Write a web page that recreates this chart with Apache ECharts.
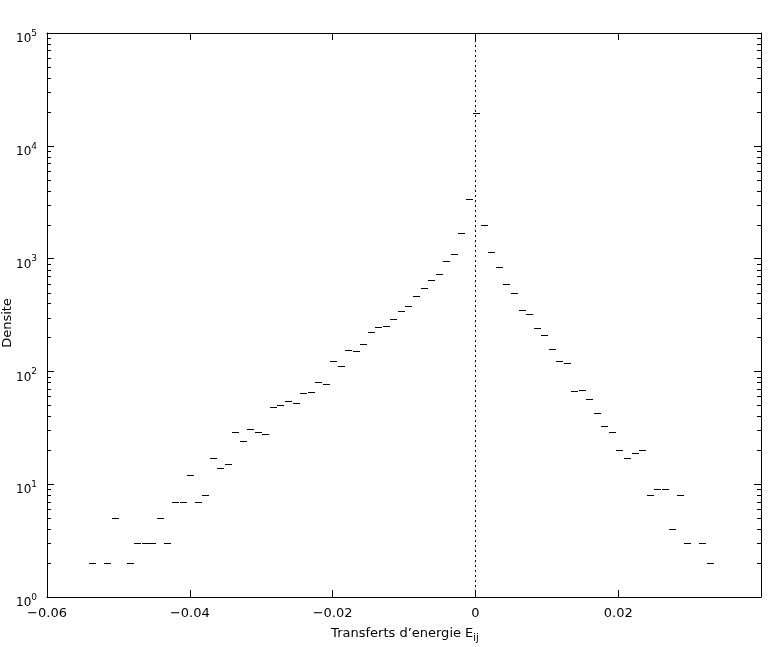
<!DOCTYPE html>
<html>
<head>
<meta charset="utf-8">
<script src="https://cdn.jsdelivr.net/npm/echarts/dist/echarts.min.js"></script>
<style>
html,body{margin:0;padding:0;background:#fff;}
#chart{width:768px;height:647px;}
</style>
</head>
<body>
<div id="chart"></div>
<script>
// Bin centres (energy transfer E_ij) and density values
var binCenters = [
  -0.05361, -0.05150, -0.05044, -0.04833, -0.04728, -0.04622, -0.04517, -0.04411, -0.04306, -0.04200,
  -0.04095, -0.03989, -0.03884, -0.03778, -0.03673, -0.03567, -0.03462, -0.03356, -0.03251, -0.03145,
  -0.03040, -0.02934, -0.02829, -0.02723, -0.02618, -0.02512, -0.02407, -0.02301, -0.02196, -0.02090,
  -0.01985, -0.01879, -0.01774, -0.01668, -0.01563, -0.01457, -0.01352, -0.01246, -0.01141, -0.01035,
  -0.00930, -0.00824, -0.00719, -0.00613, -0.00508, -0.00402, -0.00297, -0.00191, -0.00086,
  0.00020,
  0.00126, 0.00231, 0.00337, 0.00442, 0.00548, 0.00653, 0.00759, 0.00864, 0.00970, 0.01075,
  0.01181, 0.01286, 0.01392, 0.01497, 0.01603, 0.01708, 0.01814, 0.01919, 0.02025, 0.02130,
  0.02236, 0.02341, 0.02447, 0.02552, 0.02658, 0.02763, 0.02869, 0.02974, 0.03185, 0.03291
];
var densite = [
  2, 2, 5, 2, 3, 3, 3, 5, 3, 7,
  7, 12, 7, 8, 17, 14, 15, 29, 24, 31,
  29, 28, 48, 50, 55, 53, 64, 66, 80, 78,
  123, 111, 154, 151, 174, 222, 247, 253, 290, 341,
  378, 463, 545, 642, 726, 946, 1099, 1676, 3356,
  19500,
  1986, 1142, 841, 596, 495, 350, 323, 241, 210, 158,
  124, 119, 67, 68, 57, 43, 33, 29, 20, 17,
  19, 20, 8, 9, 9, 4, 8, 3, 3, 2
];
// Axis ticks
var xTicks = [-0.06, -0.04, -0.02, 0, 0.02, 0.04];
var xTickLabels = ['\u22120.06', '\u22120.04', '\u22120.02', '0', '0.02', ''];
var yMinorTicks = [];
[1, 10, 100, 1000, 10000].forEach(function (d) {
  [2, 3, 4, 5, 6, 7, 8, 9].forEach(function (k) { yMinorTicks.push(k * d); });
});

var points = binCenters.map(function (x, i) { return [x, densite[i]]; });
var minorData = yMinorTicks.map(function (v) { return [-0.06, v]; });

var FONT = 'DejaVu Sans';

function xLabel(v) {
  for (var i = 0; i < xTicks.length; i++) {
    if (Math.abs(v - xTicks[i]) < 1e-9) return xTickLabels[i];
  }
  return '';
}
function yLabel(v) {
  var e = Math.round(Math.log10(v));
  return '{b|10}{e|' + e + '}';
}

var chart = echarts.init(document.getElementById('chart'), null, {renderer: 'canvas'});
var option = {
  animation: false,
  backgroundColor: '#fff',
  grid: {left: 47, right: 7, top: 33, bottom: 50, containLabel: false, outerBoundsMode: 'none'},
  xAxis: [{
    type: 'value', min: -0.06, max: 0.04, interval: 0.02, position: 'bottom',
    axisLine: {show: true, onZero: false, lineStyle: {color: '#000', width: 1}},
    axisTick: {show: true, inside: true, length: 7, lineStyle: {color: '#000'}},
    axisLabel: {show: true, margin: 10, color: '#000', fontFamily: FONT, fontSize: 13, formatter: xLabel},
    splitLine: {show: false},
    name: 'Transferts d\u2019energie E{s|ij}',
    nameLocation: 'middle', nameGap: 28, nameMoveOverlap: false,
    nameTextStyle: {color: '#000', fontFamily: FONT, fontSize: 13, lineHeight: 18, padding: [0, 0, 0, 2],
      rich: {s: {fontFamily: FONT, fontSize: 10, color: '#000', verticalAlign: 'bottom', lineHeight: 10, padding: [12, 0, 0, 0]}}}
  }, {
    type: 'value', min: -0.06, max: 0.04, interval: 0.02, position: 'top',
    axisLine: {show: true, onZero: false, lineStyle: {color: '#000', width: 1}},
    axisTick: {show: true, inside: true, length: 7, lineStyle: {color: '#000'}},
    axisLabel: {show: false}, splitLine: {show: false}
  }],
  yAxis: [{
    type: 'log', logBase: 10, min: 1, max: 100000, position: 'left',
    axisLine: {show: true, onZero: false, lineStyle: {color: '#000', width: 1}},
    axisTick: {show: true, inside: true, length: 7, lineStyle: {color: '#000'}},
    axisLabel: {show: true, margin: 10, color: '#000', formatter: yLabel, padding: [8, 0, 0, 0],
      rich: {
        b: {fontFamily: FONT, fontSize: 12, color: '#000', lineHeight: 16, verticalAlign: 'bottom'},
        e: {fontFamily: FONT, fontSize: 9, color: '#000', lineHeight: 9, verticalAlign: 'top'}
      }},
    splitLine: {show: false},
    name: 'Densite', nameLocation: 'middle', nameGap: 33, nameRotate: 90, nameMoveOverlap: false,
    nameTextStyle: {color: '#000', fontFamily: FONT, fontSize: 13, padding: [0, 16, 0, 0]}
  }, {
    type: 'log', logBase: 10, min: 1, max: 100000, position: 'right',
    axisLine: {show: true, onZero: false, lineStyle: {color: '#000', width: 1}},
    axisTick: {show: true, inside: true, length: 7, lineStyle: {color: '#000'}},
    axisLabel: {show: false}, splitLine: {show: false}
  }],
  series: [{
    type: 'custom',
    xAxisIndex: 0, yAxisIndex: 0,
    silent: true, clip: false,
    data: minorData,
    encode: {x: 0, y: 1},
    renderItem: function (params, api) {
      var p = api.coord([api.value(0), api.value(1)]);
      var cs = params.coordSys;
      var y = Math.round(p[1]) + 0.5;
      return {type: 'group', children: [
        {type: 'line', shape: {x1: cs.x, y1: y, x2: cs.x + 4, y2: y}, style: {stroke: '#000', lineWidth: 1}},
        {type: 'line', shape: {x1: cs.x + cs.width - 4, y1: y, x2: cs.x + cs.width, y2: y}, style: {stroke: '#000', lineWidth: 1}}
      ]};
    }
  }, {
    type: 'custom',
    xAxisIndex: 0, yAxisIndex: 0,
    silent: true,
    data: points,
    encode: {x: 0, y: 1},
    renderItem: function (params, api) {
      var p = api.coord([api.value(0), api.value(1)]);
      return {type: 'rect', shape: {x: Math.round(p[0] - 3.5), y: Math.round(p[1]), width: 7, height: 1},
        style: {fill: '#000'}};
    },
    markLine: {
      silent: true, symbol: ['none', 'none'],
      label: {show: false},
      lineStyle: {color: '#000', type: [2, 3], width: 1},
      data: [{xAxis: 0}]
    }
  }]
};
chart.setOption(option);
</script>
</body>
</html>
